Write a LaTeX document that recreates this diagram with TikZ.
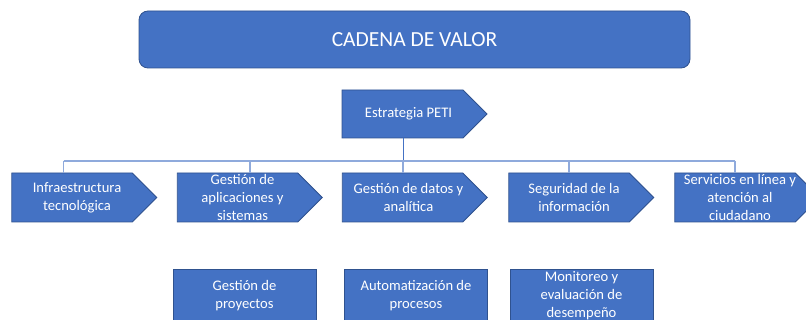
\documentclass[tikz,border=0pt]{standalone}
\usepackage{fontspec}
\setmainfont{Carlito}
\usetikzlibrary{shapes.symbols}
\definecolor{boxBlue}{HTML}{4472C4}
\definecolor{boxEdge}{HTML}{2F528F}
\definecolor{busBlue}{HTML}{8FAADC}
\newcommand{\smalltxt}{\fontsize{14.6}{17.8}\selectfont}
\tikzset{
  chev/.style={signal, signal to=east, signal pointer angle=90, fill=boxBlue, draw=boxEdge,
    line width=0.8pt, minimum width=145pt, minimum height=49pt, inner sep=0pt},
  txt/.style={text=white, align=center, font=\smalltxt},
  plainbox/.style={rectangle, fill=boxBlue, draw=boxEdge, line width=0.8pt, minimum width=143pt,
    minimum height=53pt, inner sep=0pt, txt},
  bus/.style={draw=busBlue, line width=1.2pt},
}

\begin{document}
\begin{tikzpicture}[x=1pt,y=-1pt]
  \useasboundingbox (0,0) rectangle (806,320);
  % title
  \node[rectangle, rounded corners=9pt, fill=boxBlue, draw=boxEdge, line width=0.8pt,
    minimum width=551pt, minimum height=57pt, text=white, font=\fontsize{21.5}{26}\selectfont]
    (cadena) at (414.5,39.5) {CADENA DE VALOR};
  % strategy
  \node[chev, minimum height=48pt, label={[txt,xshift=6pt]center:Estrategia PETI}] (peti) at (402.5,114) {};
  % bus and drops
  \coordinate (d1) at (63.5,161);
  \coordinate (d2) at (250,161);
  \coordinate (d3) at (403,161);
  \coordinate (d4) at (569,161);
  \coordinate (d5) at (735,161);
  \draw[boxBlue, line width=0.8pt] (d3 |- peti.south) -- (d3);
  \draw[bus] (d1) -- (d5);
  % pillars
  \node[chev, label={[txt,xshift=5pt]center:{Infraestructura\\tecnológica}}] (infra) at (72,197.5) {};
  \node[chev, label={[txt,xshift=5pt]center:{Gestión de\\aplicaciones y\\sistemas}}] (apps) at (237.5,197.5) {};
  \node[chev, label={[txt,xshift=6pt]center:{Gestión de datos y\\analítica}}] (datos) at (402.5,197.5) {};
  \node[chev, label={[txt,xshift=5pt]center:{Seguridad de la\\información}}] (segur) at (569,197.5) {};
  \node[chev, label={[txt,xshift=5pt]center:{Servicios en línea y\\atención al\\ciudadano}}] (servi) at (735,197.5) {};
  \foreach \d/\b in {d1/infra, d2/apps, d3/datos, d4/segur, d5/servi}
    \draw[bus] (\d) -- (\d |- \b.north);
  % support
  \node[plainbox] (proy) at (244.5,295.5) {Gestión de\\proyectos};
  \node[plainbox] (auto) at (416,295.5) {Automatización de\\procesos};
  \node[plainbox] (moni) at (581.5,295.5) {Monitoreo y\\evaluación de\\desempeño};
\end{tikzpicture}
\end{document}
